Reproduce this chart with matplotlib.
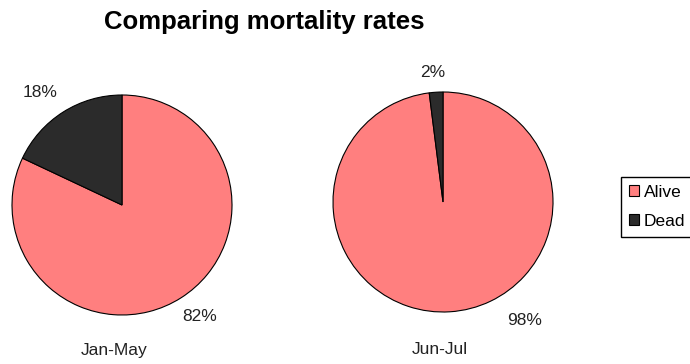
import matplotlib
matplotlib.use("Agg")
import matplotlib.pyplot as plt
from matplotlib.patches import Patch

plt.rcParams["font.family"] = ["Liberation Sans", "DejaVu Sans"]

categories = ["Alive", "Dead"]
periods = ["Jan-May", "Jun-Jul"]
alive_pct = [82, 98]
dead_pct = [18, 2]

colors = ["#ff7f7f", "#2b2b2b"]

fig = plt.figure(figsize=(6.9, 3.64), dpi=100)
W, H = 690, 364

# pie centres and radius in pixels
centres = [(122, 205), (443, 202)]
radius = 110
# where each percentage label sits, in units of the pie radius
alive_label_pos = [(0.71, -1.01), (0.745, -1.075)]
dead_label_pos = [(-0.745, 1.02), (-0.09, 1.18)]
period_label_x = [114, 440]

for i, (cx, cy) in enumerate(centres):
    a, d = alive_pct[i], dead_pct[i]
    ax = fig.add_axes([(cx - radius) / W, (H - cy - radius) / H,
                       2 * radius / W, 2 * radius / H])
    ax.pie([a, d], colors=colors, startangle=90, counterclock=False,
           wedgeprops=dict(edgecolor="black", linewidth=0.8))
    for val, (lx, ly) in [(a, alive_label_pos[i]), (d, dead_label_pos[i])]:
        ax.text(lx, ly, f"{val}%", ha="center", va="center",
                fontsize=12.5, color="#222222", clip_on=False)
    ax.set_xlim(-1, 1)
    ax.set_ylim(-1, 1)
    ax.set_aspect("equal")
    fig.text(period_label_x[i] / W, 1 - 350 / H, periods[i], ha="center",
             va="center", fontsize=12.5, color="#222222")

fig.text(264 / W, 1 - 22 / H, "Comparing mortality rates", ha="center",
         va="center", fontsize=18.5, fontweight="bold")

handles = [Patch(facecolor=c, edgecolor="black", linewidth=0.8) for c in colors]
fig.legend(handles, categories, loc="upper left",
           bbox_to_anchor=(621 / W, 1 - 177 / H), fontsize=12.5,
           frameon=True, fancybox=False, edgecolor="black", framealpha=1,
           handlelength=0.6, handleheight=0.6, handletextpad=0.25,
           borderpad=0.45, labelspacing=0.8, borderaxespad=0)

fig.savefig("out.png", dpi=100)
